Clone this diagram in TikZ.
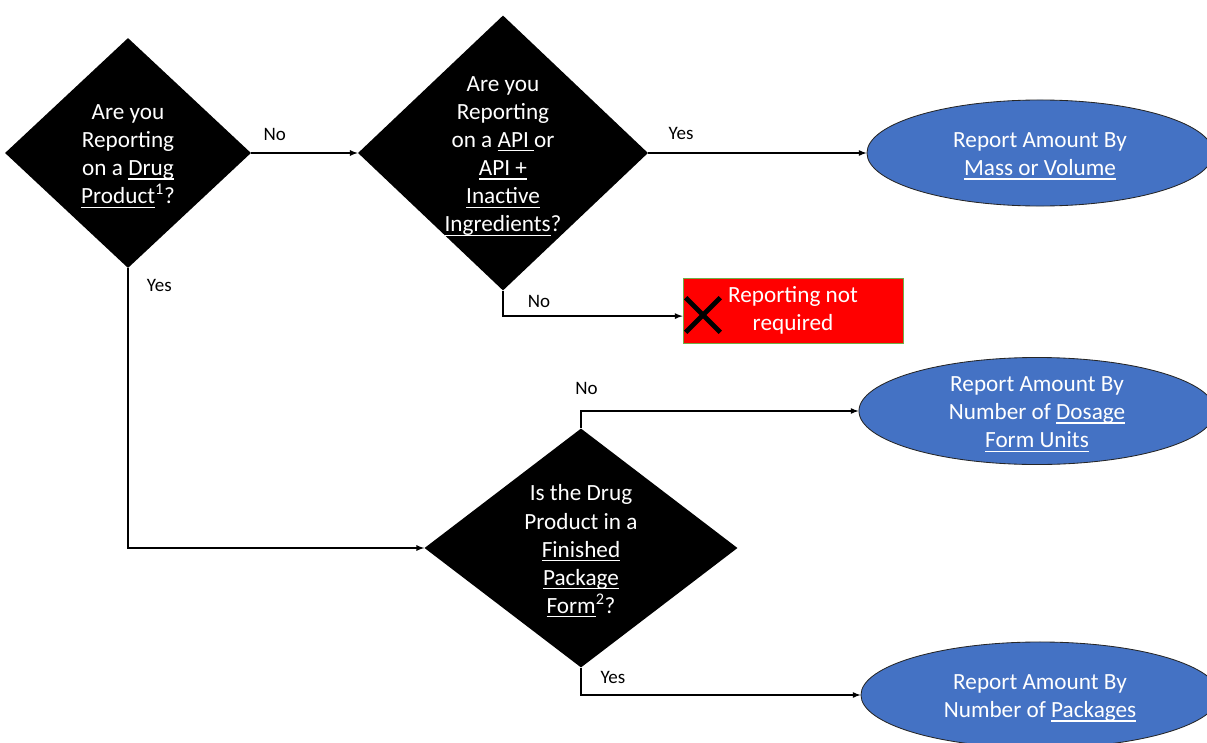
\documentclass[tikz,border=0pt]{standalone}
\usepackage{fontspec}
\setmainfont{Carlito}
\usetikzlibrary{shapes.geometric,shapes.misc,arrows}
\definecolor{ovalblue}{HTML}{4472C4}
\definecolor{stopgreen}{HTML}{70AD47}
\newcommand{\ulin}[1]{\leavevmode\setbox0\hbox{#1}\rlap{\rule[-2.8pt]{\wd0}{0.8pt}}\box0}

\begin{document}
\begin{tikzpicture}[x=0.025cm, y=-0.025cm,
    decision/.style={diamond, fill=black, inner sep=0pt},
    outcome/.style={ellipse, draw=black!85, fill=ovalblue, line width=0.6pt, inner sep=0pt},
    boxtext/.style={text=white, align=center, font=\fontsize{16.5}{20}\selectfont},
    shapetext/.style={boxtext, yshift=-2.2pt},
    stopbox/.style={rectangle, draw=stopgreen, fill=red, line width=0.5pt, boxtext,
        minimum width=5.5cm, minimum height=1.625cm},
    flow/.style={->, >=latex, line width=0.9pt},
    lbl/.style={font=\fontsize{13.5}{16}\selectfont, inner sep=2pt}]
    \useasboundingbox (0,0) rectangle (1207,742);

    \node[decision, minimum width=6.15cm, minimum height=5.75cm] (q1) at (128,153) {};
    \node[shapetext] (q1txt) at (q1.center) {Are you\\Reporting\\on a \ulin{Drug}\\\ulin{Product}\textsuperscript{1}?};

    \node[decision, minimum width=7.25cm, minimum height=6.875cm] (q2) at (503,153) {};
    \node[shapetext] (q2txt) at (q2.center) {Are you\\Reporting\\on a \ulin{API\ }or\\\ulin{API +}\\\ulin{Inactive}\\\ulin{Ingredients}?};

    \node[decision, minimum width=7.825cm, minimum height=5.975cm] (q3) at (581,548) {};
    \node[shapetext] (q3txt) at (q3.center) {Is the Drug\\Product in a\\\ulin{Finished}\\\ulin{Package}\\\ulin{Form}\textsuperscript{2}?};

    \node[outcome, minimum width=8.65cm, minimum height=2.65cm] (mass) at (1040,153) {};
    \node[shapetext] (masstxt) at (mass.center) {Report Amount By\\\ulin{Mass or Volume}};

    \node[outcome, minimum width=8.9cm, minimum height=2.675cm] (dosage) at (1037,411) {};
    \node[shapetext] (dosagetxt) at (dosage.center) {Report Amount By\\Number of \ulin{Dosage}\\\ulin{Form Units}};

    \node[outcome, minimum width=8.95cm, minimum height=2.65cm] (packages) at (1040,695) {};
    \node[shapetext] (packagestxt) at (packages.center) {Report Amount By\\Number of \ulin{Packages}};

    \node[stopbox] (stop) at (793,310.5) {Reporting not\\required};
    \node[cross out, draw=black, line width=3.3pt, minimum size=0.75cm, inner sep=0pt] (xmark) at (703,315) {};

    \draw[flow] (q1.east) -- node[lbl, pos=0.22, above, yshift=6pt] {No} (q2.west);
    \draw[flow] (q2.east) -- node[lbl, pos=0.15, above, yshift=7pt] {Yes} (mass.west);
    \draw[flow] (q2.south) |- node[lbl, pos=0.6, above, yshift=3.5pt] {No} ([yshift=-0.14cm]stop.west);
    \draw[flow] (q1.south) |- node[lbl, pos=0.03, right, xshift=11pt] {Yes} (q3.west);
    \draw[flow] (q3.north) |- node[lbl, pos=0.51, above, yshift=9pt] {No} (dosage.west);
    \draw[flow] (q3.south) |- node[lbl, pos=0.557, above, yshift=5.5pt] {Yes} (packages.west);
\end{tikzpicture}
\end{document}
